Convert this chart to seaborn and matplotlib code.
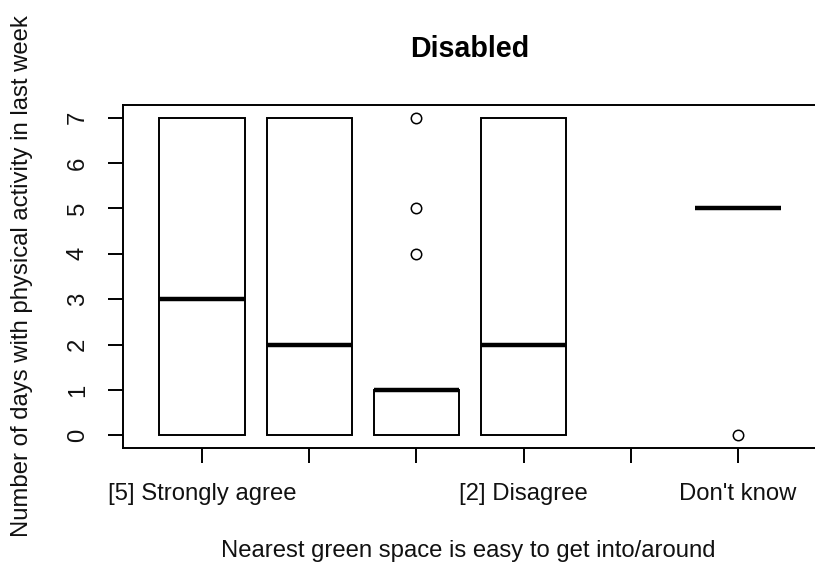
import numpy as np
import pandas as pd
import matplotlib
matplotlib.use("Agg")
import matplotlib.pyplot as plt
import seaborn as sns

# Response categories on the x axis (in survey order)
categories = [
    "[5] Strongly agree",
    "[4] Agree",
    "[3] Neither agree nor disagree",
    "[2] Disagree",
    "[1] Strongly disagree",
    "Don't know",
]
# Labels that fit along the axis (others are skipped to avoid overlap)
shown_labels = ["[5] Strongly agree", "", "", "[2] Disagree", "", "Don't know"]

# Days with physical activity in the last week, per response group
days_strongly_agree = [0, 0, 3, 7, 7]
days_agree = [0, 0, 2, 7, 7]
days_neither = [0, 0, 0, 0, 1, 1, 1, 1, 1, 1, 4, 5, 7]
days_disagree = [0, 0, 2, 7, 7]
days_strongly_disagree = []
days_dont_know = [0, 5, 5, 5, 5]

groups = [days_strongly_agree, days_agree, days_neither,
          days_disagree, days_strongly_disagree, days_dont_know]

df = pd.DataFrame({
    "response": np.concatenate([[c] * len(g) for c, g in zip(categories, groups)]),
    "days": np.concatenate([np.asarray(g, dtype=float) for g in groups]),
})

sns.set_style("white")
plt.rcParams["font.family"] = ["Liberation Sans", "DejaVu Sans"]
plt.rcParams["text.color"] = "black"

W, H = 815, 570
fig = plt.figure(figsize=(W / 100, H / 100), dpi=100)
left, right, top, bottom = 123, 817, 105, 448
ax = fig.add_axes([left / W, (H - bottom) / H, (right - left) / W, (bottom - top) / H])

lw = 1.4
sns.boxplot(
    data=df, x="response", y="days", order=categories, ax=ax,
    color="white", linecolor="black", linewidth=lw, width=0.8,
    showcaps=False, whis=1.5,
    medianprops=dict(color="black", linewidth=3.2, solid_capstyle="butt"),
    flierprops=dict(marker="o", markersize=7.5, markerfacecolor="none",
                    markeredgecolor="black", markeredgewidth=1.1),
)

ax.set_xlim(-0.74, 5.74)
ax.set_ylim(-0.28, 7.28)
ax.set_yticks(range(0, 8))
ax.set_xticks(range(len(categories)))
ax.set_xticklabels(shown_labels)

for s in ax.spines.values():
    s.set_visible(True)
    s.set_color("black")
    s.set_linewidth(lw)

fs = 17.2
ax.tick_params(axis="both", direction="out", length=10.5, width=lw, color="black",
               labelsize=fs, labelcolor="#111111", bottom=True, left=True,
               top=False, right=False)
ax.tick_params(axis="x", pad=14.5)
ax.tick_params(axis="y", pad=14, labelrotation=90)
for t in ax.get_yticklabels():
    t.set_va("center")

ax.set_title("Disabled", fontsize=20.6, fontweight="bold", color="black",
             pad=0, y=(bottom - 49) / (bottom - top), va="center")

ax.set_xlabel("Nearest green space is easy to get into/around", fontsize=fs, color="#111111")
ax.xaxis.set_label_coords(0.497, (bottom - 551) / (bottom - top))
ax.xaxis.label.set_va("center")

ax.set_ylabel("Number of days with physical activity in last week", fontsize=fs, color="#111111")
ax.yaxis.set_label_coords((22 - left) / (right - left), (bottom - 276) / (bottom - top))
ax.yaxis.label.set_va("center")

fig.savefig("out.png", dpi=100, facecolor="white")
